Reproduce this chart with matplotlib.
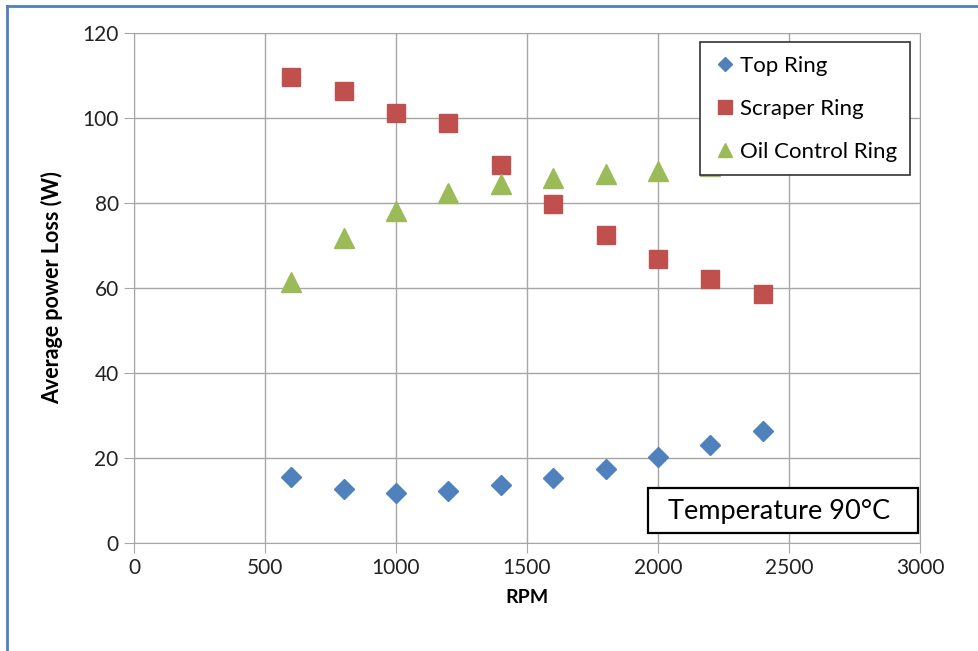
import matplotlib.pyplot as plt
from matplotlib.lines import Line2D
from matplotlib.patches import Rectangle

rpm = [600, 800, 1000, 1200, 1400, 1600, 1800, 2000, 2200, 2400]
top_ring = [15.5, 12.7, 11.8, 12.2, 13.6, 15.3, 17.4, 20.2, 23.1, 26.4]
scraper_ring = [109.6, 106.4, 101.2, 98.8, 88.9, 79.8, 72.5, 66.8, 62.1, 58.6]
oil_ring = [61.4, 71.8, 78.1, 82.4, 84.5, 85.9, 86.8, 87.5, 88.6, 89.4]

plt.rcParams["font.family"] = ["Lato", "DejaVu Sans"]

fig = plt.figure(figsize=(9.79, 6.51), dpi=100)
ax = fig.add_axes([0.1369, 0.1659, 0.8028, 0.7834])

ax.plot(rpm, top_ring, linestyle="none", marker="D", markersize=10,
        color="#4F81BD", label="Top Ring", zorder=3)
ax.plot(rpm, scraper_ring, linestyle="none", marker="s", markersize=13,
        color="#C0504D", label="Scraper Ring", zorder=3)
ax.plot(rpm, oil_ring, linestyle="none", marker="^", markersize=14,
        color="#9BBB59", label="Oil Control Ring", zorder=3)

ax.set_xlim(0, 3000)
ax.set_ylim(0, 120)
ax.set_xticks(range(0, 3001, 500))
ax.set_yticks(range(0, 121, 20))
ax.grid(True, color="#A6A6A6", linewidth=1)
ax.set_axisbelow(True)
for s in ax.spines.values():
    s.set_color("#A6A6A6")
ax.tick_params(direction="out", length=7, color="#A6A6A6", labelsize=15,
               labelcolor="#222222", pad=4)

ax.set_xlabel("RPM", fontsize=14, fontweight="bold", labelpad=8)
ax.set_ylabel("Average power Loss (W)", fontsize=15.5, fontweight="bold", labelpad=14)

leg = ax.legend(loc="upper left", bbox_to_anchor=(0.720, 0.982), fontsize=16,
                frameon=True, fancybox=False, framealpha=1, edgecolor="#333333",
                handletextpad=0.1, handlelength=1.1, labelspacing=1.04,
                borderpad=0.6, borderaxespad=0, markerscale=0.75)
leg.get_frame().set_linewidth(1.2)
leg.set_zorder(5)

# text box with the temperature
ax.add_patch(Rectangle((0.654, 0.0196), 0.343, 0.0882, transform=ax.transAxes,
                       facecolor="white", edgecolor="black", linewidth=1.6,
                       zorder=6, clip_on=False))
ax.text(0.679, 0.0617, "Temperature 90\u00b0C", transform=ax.transAxes,
        fontsize=19.5, ha="left", va="center", zorder=7)

fig.add_artist(Line2D([0.007, 1.0], [0.991, 0.991], transform=fig.transFigure,
                      color="#4F81BD", linewidth=2))
fig.add_artist(Line2D([0.007, 0.007], [0.0, 0.991], transform=fig.transFigure,
                      color="#4F81BD", linewidth=2))

fig.savefig("out.png", dpi=100)
